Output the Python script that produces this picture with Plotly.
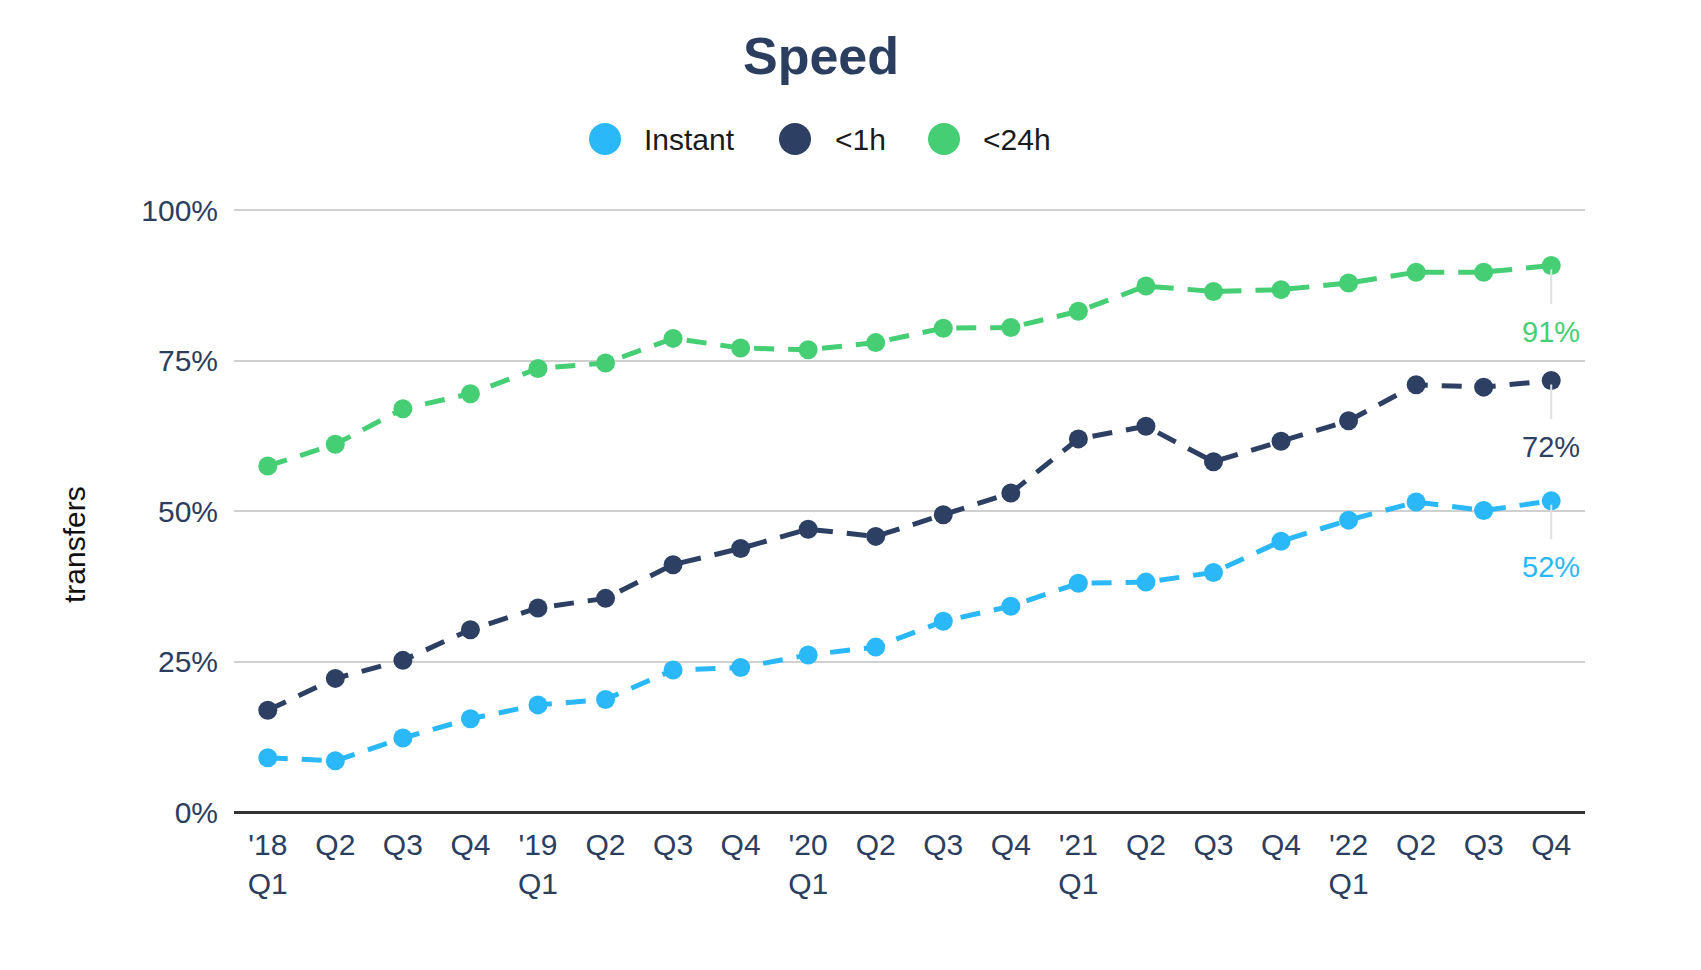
import plotly.graph_objects as go

quarters = ["2018Q1", "2018Q2", "2018Q3", "2018Q4",
            "2019Q1", "2019Q2", "2019Q3", "2019Q4",
            "2020Q1", "2020Q2", "2020Q3", "2020Q4",
            "2021Q1", "2021Q2", "2021Q3", "2021Q4",
            "2022Q1", "2022Q2", "2022Q3", "2022Q4"]
tick_labels = ["'18<br>Q1", "Q2", "Q3", "Q4",
               "'19<br>Q1", "Q2", "Q3", "Q4",
               "'20<br>Q1", "Q2", "Q3", "Q4",
               "'21<br>Q1", "Q2", "Q3", "Q4",
               "'22<br>Q1", "Q2", "Q3", "Q4"]

instant = [9.0, 8.5, 12.3, 15.5, 17.8, 18.7, 23.6, 24.0, 26.1, 27.4,
           31.7, 34.2, 38.0, 38.2, 39.8, 45.0, 48.5, 51.5, 50.1, 51.7]
under_1h = [16.9, 22.2, 25.2, 30.3, 33.9, 35.5, 41.1, 43.8, 47.0, 45.8,
            49.4, 53.0, 62.0, 64.1, 58.2, 61.6, 65.0, 71.0, 70.6, 71.7]
under_24h = [57.5, 61.1, 67.0, 69.5, 73.7, 74.6, 78.7, 77.1, 76.8, 78.0,
             80.4, 80.5, 83.2, 87.4, 86.5, 86.8, 87.9, 89.7, 89.7, 90.8]

series_names = ["Instant", "<1h", "<24h"]
series_values = [instant, under_1h, under_24h]
colors = ["#2bb8f8", "#2d4064", "#45ce74"]

FONT = "Liberation Sans, Arial, sans-serif"
NAVY = "#2c3e5f"

OFF = 8  # default page body margin
W, H = 1701 - OFF, 970 - OFF
L, R, T, B = 234 - OFF, 116, 209 - OFF, 158
PW, PH = W - L - R, H - T - B


def px_x(p):
    return (p - OFF - L) / PW


def px_y(p):
    return (H - B - (p - OFF)) / PH


fig = go.Figure()
for name, vals, col in zip(series_names, series_values, colors):
    fig.add_trace(go.Scatter(
        x=quarters, y=vals, name=name, mode="lines+markers",
        line=dict(color=col, width=5, dash="20px,14px"),
        marker=dict(color=col, size=19),
        showlegend=False, cliponaxis=False,
    ))

annotations = []
shapes = []
# end labels
for vals, col in zip(series_values, colors):
    annotations.append(dict(
        x=quarters[-1], y=vals[-1], xref="x", yref="y",
        text=f"{round(vals[-1])}%", showarrow=True, arrowhead=0,
        arrowcolor="#e0e0e0", arrowwidth=2, ax=0, ay=66,
        startstandoff=10, standoff=4,
        font=dict(family=FONT, size=29, color=col),
    ))

# title
annotations.append(dict(
    x=px_x(821), y=px_y(56), xref="paper", yref="paper",
    text="<b>Speed</b>", showarrow=False, xanchor="center", yanchor="middle",
    font=dict(family=FONT, size=52, color=NAVY),
))

# y-axis title
annotations.append(dict(
    x=px_x(74), y=px_y(545), xref="paper", yref="paper",
    text="transfers", showarrow=False, textangle=-90,
    xanchor="center", yanchor="middle",
    font=dict(family=FONT, size=30, color="#111111"),
))

# manual legend
legend_marker_x = [605, 795, 944]
legend_text_x = [642, 833, 981]
legend_y = 139
r = 16
for name, col, mx, tx in zip(series_names, colors, legend_marker_x, legend_text_x):
    shapes.append(dict(
        type="circle", xref="paper", yref="paper",
        x0=px_x(mx - r), x1=px_x(mx + r), y0=px_y(legend_y + r), y1=px_y(legend_y - r),
        fillcolor=col, line=dict(width=0),
    ))
    annotations.append(dict(
        x=px_x(tx), y=px_y(legend_y), xref="paper", yref="paper",
        text=name.replace("<", "&lt;"), showarrow=False, xanchor="left", yanchor="middle",
        font=dict(family=FONT, size=30, color="#1a1a1a"),
    ))

fig.update_layout(
    width=W, height=H,
    margin=dict(l=L, r=R, t=T, b=B, autoexpand=False),
    paper_bgcolor="white", plot_bgcolor="white",
    font=dict(family=FONT, size=30, color=NAVY),
    showlegend=False,
    annotations=annotations, shapes=shapes,
    xaxis=dict(
        type="category", categoryorder="array", categoryarray=quarters,
        range=[-0.5, len(quarters) - 0.5],
        tickmode="array", tickvals=quarters, ticktext=tick_labels,
        showgrid=False, zeroline=False, showline=False, ticks="",
        tickfont=dict(family=FONT, size=30, color=NAVY),
        ticklabelstandoff=12, fixedrange=True,
    ),
    yaxis=dict(
        range=[0, 100.2], tickvals=[0, 25, 50, 75, 100],
        ticktext=["0%", "25%", "50%", "75%", "100%"],
        showgrid=True, gridcolor="#d0d0d0", gridwidth=2,
        zeroline=True, zerolinecolor="#333333", zerolinewidth=3,
        showline=False, ticks="",
        tickfont=dict(family=FONT, size=30, color=NAVY),
        ticklabelstandoff=15, fixedrange=True,
    ),
)

fig.write_html("out.html")
